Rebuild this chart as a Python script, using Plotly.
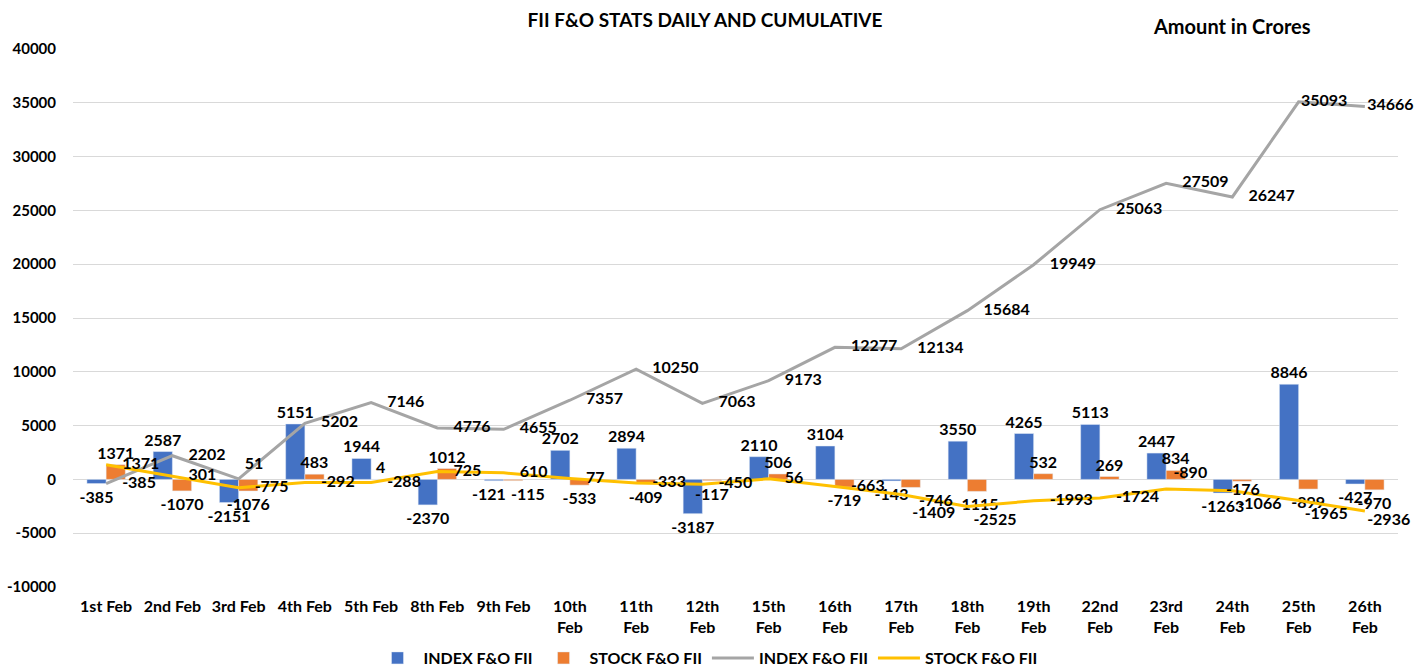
import plotly.graph_objects as go

categories = ["1st Feb", "2nd Feb", "3rd Feb", "4th Feb", "5th Feb", "8th Feb", "9th Feb",
              "10th<br>Feb", "11th<br>Feb", "12th<br>Feb", "15th<br>Feb", "16th<br>Feb",
              "17th<br>Feb", "18th<br>Feb", "19th<br>Feb", "22nd<br>Feb", "23rd<br>Feb",
              "24th<br>Feb", "25th<br>Feb", "26th<br>Feb"]
index_daily = [-385, 2587, -2151, 5151, 1944, -2370, -121, 2702, 2894, -3187,
               2110, 3104, -143, 3550, 4265, 5113, 2447, -1263, 8846, -427]
stock_daily = [1371, -1070, -1076, 483, 4, 1012, -115, -533, -409, -117,
               506, -719, -746, -1115, 532, 269, 834, -176, -899, -970]
index_cum = [-385, 2202, 51, 5202, 7146, 4776, 4655, 7357, 10250, 7063,
             9173, 12277, 12134, 15684, 19949, 25063, 27509, 26247, 35093, 34666]
stock_cum = [1371, 301, -775, -292, -288, 725, 610, 77, -333, -450,
             56, -663, -1409, -2525, -1993, -1724, -890, -1066, -1965, -2936]
y_ticks = list(range(-10000, 40001, 5000))
y_ticktext = [str(v) for v in y_ticks]

# label placement for the line series (to mimic the reference)
index_cum_pos = ["middle right"] * 20
index_cum_pos[2] = "top right"
index_cum_gap = [24] * 20          # invisible marker size -> label offset
index_cum_gap[2] = 8
index_cum_gap[18] = 2
index_cum_gap[19] = 2
stock_cum_pos = ["middle right"] * 20
stock_cum_gap = [24] * 20
for i in (13, 17, 18, 19):
    stock_cum_pos[i] = "bottom right"
    stock_cum_gap[i] = 8
stock_cum_gap[19] = 2
stock_cum_pos[12] = "bottom right"
stock_cum_gap[12] = 16
stock_cum_pos[16] = "top right"
stock_cum_gap[16] = 10

# bar labels moved (as in the reference): (series, index) -> (x shift, y shift) in pixels
moved_labels = {("index", 6): (-15, -1), ("stock", 6): (24, -1),
                ("stock", 12): (35, -1), ("stock", 17): (11, 4)}

index_daily_txt = [str(v) for v in index_daily]
stock_daily_txt = [str(v) for v in stock_daily]

FONT = "Lato"
lab_font = dict(family=FONT, size=16, color="black", weight="bold")

annotations = [dict(text="Amount in Crores", xref="paper", yref="paper",
                    x=(1232 - 73) / 1325, y=1 + 23 / 538, xanchor="center", yanchor="middle",
                    showarrow=False, font=dict(family=FONT, size=20, weight="bold", color="black"))]
for (series, i), (dx, dy) in moved_labels.items():
    vals, txt = (index_daily, index_daily_txt) if series == "index" else (stock_daily, stock_daily_txt)
    txt[i] = ""
    annotations.append(dict(x=categories[i], y=vals[i], xref="x", yref="y", text=str(vals[i]),
                            showarrow=False, xshift=dx, yshift=dy,
                            yanchor="top" if vals[i] < 0 else "bottom", font=lab_font))

fig = go.Figure()
fig.add_trace(go.Bar(x=categories, y=index_daily, name="INDEX F&O FII", marker_color="#4472C4",
                     text=index_daily_txt, textposition="outside",
                     textfont=lab_font, cliponaxis=False, constraintext="none"))
fig.add_trace(go.Bar(x=categories, y=stock_daily, name="STOCK F&O FII", marker_color="#ED7D31",
                     text=stock_daily_txt, textposition="outside",
                     textfont=lab_font, cliponaxis=False, constraintext="none"))
fig.add_trace(go.Scatter(x=categories, y=index_cum, name="INDEX F&O FII", mode="lines",
                         line=dict(color="#A5A5A5", width=3)))
fig.add_trace(go.Scatter(x=categories, y=stock_cum, name="STOCK F&O FII", mode="lines",
                         line=dict(color="#FFC000", width=3)))
# data labels of the lines (invisible markers give the label offset)
fig.add_trace(go.Scatter(x=categories, y=index_cum, mode="markers+text", showlegend=False,
                         marker=dict(size=index_cum_gap, opacity=0), hoverinfo="skip",
                         text=[str(v) for v in index_cum], textposition=index_cum_pos,
                         textfont=lab_font, cliponaxis=False))
fig.add_trace(go.Scatter(x=categories, y=stock_cum, mode="markers+text", showlegend=False,
                         marker=dict(size=stock_cum_gap, opacity=0), hoverinfo="skip",
                         text=[str(v) for v in stock_cum], textposition=stock_cum_pos,
                         textfont=lab_font, cliponaxis=False))

fig.update_layout(
    width=1425, height=667,
    margin=dict(l=73, r=27, t=49, b=80),
    plot_bgcolor="white", paper_bgcolor="white",
    barmode="group", bargap=0.42, bargroupgap=0,
    font=dict(family=FONT, color="black"),
    title=dict(text="FII F&O STATS DAILY AND CUMULATIVE", x=705 / 1425, xanchor="center",
               y=1 - 20 / 667, yanchor="middle",
               font=dict(family=FONT, size=19, weight="bold", color="black")),
    showlegend=True,
    legend=dict(orientation="h", x=707 / 1425, xanchor="center", xref="container",
                y=1 - 658 / 667, yanchor="middle", yref="container",
                font=dict(family=FONT, size=16, weight="bold"), itemwidth=42,
                tracegroupgap=0),
    annotations=annotations,
)
fig.update_xaxes(showgrid=False, showline=False, ticks="", automargin=False,
                 range=[-0.5, 19.5], ticklabelstandoff=8,
                 tickfont=dict(family=FONT, size=16, weight="bold"))
fig.update_yaxes(range=[-10000, 40000], tickvals=y_ticks, ticktext=y_ticktext,
                 showgrid=True, gridcolor="#D9D9D9", automargin=False,
                 gridwidth=1, zeroline=False, showline=False, ticklabelstandoff=16,
                 tickfont=dict(family=FONT, size=15, weight="bold"))

fig.write_html("out.html", config={"displayModeBar": False},
               post_script="document.body.style.margin='0px';document.body.style.overflow='hidden';")
